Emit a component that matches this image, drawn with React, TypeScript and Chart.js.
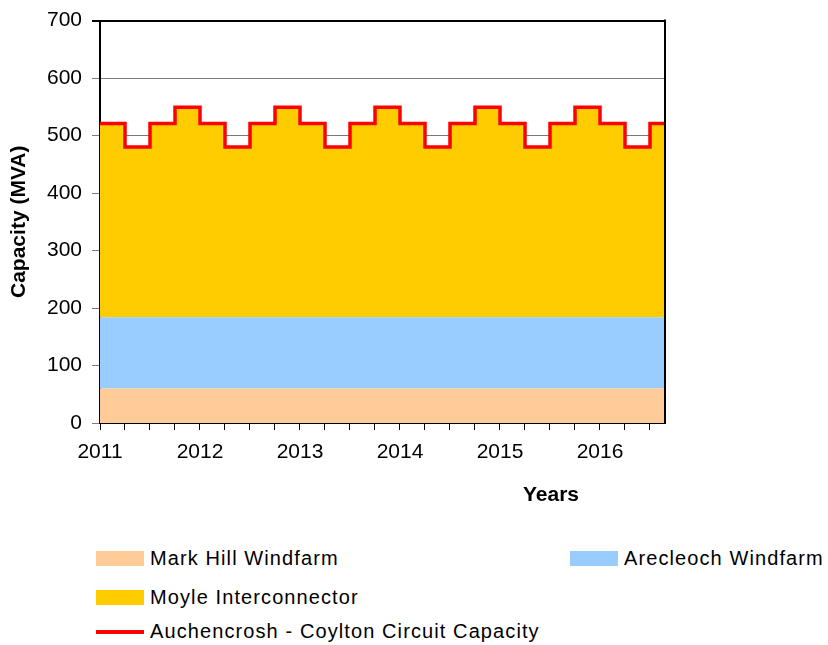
import React, { useEffect, useRef } from "react";
import { Chart, registerables } from "chart.js";

Chart.register(...registerables);

// ---- Data ----
// Quarter start (decimal year); last entry = end of the plotted period
const periodYear = [
  2011, 2011.25, 2011.5, 2011.75,
  2012, 2012.25, 2012.5, 2012.75,
  2013, 2013.25, 2013.5, 2013.75,
  2014, 2014.25, 2014.5, 2014.75,
  2015, 2015.25, 2015.5, 2015.75,
  2016, 2016.25, 2016.5, 2016.65,
];

const circuitCapacity = [
  521, 480, 521, 549,
  521, 480, 521, 549,
  521, 480, 521, 549,
  521, 480, 521, 549,
  521, 480, 521, 549,
  521, 480, 521, 521,
];

const markHillWindfarm = [
  60, 60, 60, 60, 60, 60, 60, 60, 60, 60, 60, 60,
  60, 60, 60, 60, 60, 60, 60, 60, 60, 60, 60, 60,
];

const arecleochWindfarm = [
  124, 124, 124, 124, 124, 124, 124, 124, 124, 124, 124, 124,
  124, 124, 124, 124, 124, 124, 124, 124, 124, 124, 124, 124,
];

const moyleInterconnector = [
  337, 296, 337, 365,
  337, 296, 337, 365,
  337, 296, 337, 365,
  337, 296, 337, 365,
  337, 296, 337, 365,
  337, 296, 337, 337,
];

const seriesNames = [
  "Mark Hill Windfarm",
  "Arecleoch Windfarm",
  "Moyle Interconnector",
  "Auchencrosh - Coylton Circuit Capacity",
];
const seriesColors = ["#FFCC99", "#99CCFF", "#FFCC00", "#FF0000"];

const yMin = 0;
const yMax = 700;
const yStep = 100;
const xMin = 2011;
const xMax = 2016.65;
const xStep = 0.25;

const FONT = '"Liberation Sans", Arial, Helvetica, sans-serif';

const toPoints = (vals: number[]) => periodYear.map((x, i) => ({ x, y: vals[i] }));

export default function App() {
  const canvasRef = useRef<HTMLCanvasElement | null>(null);

  useEffect(() => {
    if (!canvasRef.current) return;

    const framePlugin = {
      id: "frameAndYears",
      afterDatasetsDraw(chart: any) {
        const { ctx, chartArea } = chart;
        ctx.save();
        ctx.strokeStyle = "#000";
        ctx.lineWidth = 2;
        ctx.beginPath();
        ctx.moveTo(chartArea.right, chartArea.top - 1);
        ctx.lineTo(chartArea.right, chartArea.bottom);
        ctx.stroke();
        ctx.restore();
      },
      afterDraw(chart: any) {
        const { ctx, chartArea } = chart;
        ctx.save();
        ctx.font = `bold 21px ${FONT}`;
        ctx.fillStyle = "#000";
        ctx.textAlign = "center";
        ctx.textBaseline = "middle";
        ctx.fillText("Years", chartArea.right - 114, chartArea.bottom + 72);
        ctx.restore();
      },
    };

    const stepMode: any = "before";

    const chart = new Chart(canvasRef.current, {
      type: "line",
      data: {
        datasets: [
          {
            label: seriesNames[3],
            data: toPoints(circuitCapacity),
            borderColor: seriesColors[3],
            borderWidth: 3.5,
            pointRadius: 0,
            stepped: stepMode,
            fill: false,
            stack: "capacity",
          } as any,
          {
            label: seriesNames[0],
            data: toPoints(markHillWindfarm),
            borderColor: "transparent",
            borderWidth: 0,
            backgroundColor: seriesColors[0],
            pointRadius: 0,
            stepped: stepMode,
            fill: "origin",
            stack: "sources",
          },
          {
            label: seriesNames[1],
            data: toPoints(arecleochWindfarm),
            borderColor: "transparent",
            borderWidth: 0,
            backgroundColor: seriesColors[1],
            pointRadius: 0,
            stepped: stepMode,
            fill: "-1",
            stack: "sources",
          },
          {
            label: seriesNames[2],
            data: toPoints(moyleInterconnector),
            borderColor: "transparent",
            borderWidth: 0,
            backgroundColor: seriesColors[2],
            pointRadius: 0,
            stepped: stepMode,
            fill: "-1",
            stack: "sources",
          },
        ],
      },
      options: {
        animation: false,
        responsive: false,
        maintainAspectRatio: false,
        layout: { padding: { top: 18.7, right: 163, left: 0, bottom: 0 } },
        plugins: {
          legend: { display: false },
          tooltip: { enabled: false },
        },
        scales: {
          x: {
            type: "linear",
            min: xMin,
            max: xMax,
            ticks: {
              stepSize: xStep,
              includeBounds: false,
              autoSkip: false,
              maxRotation: 0,
              minRotation: 0,
              padding: 10,
              color: "#000",
              font: { family: FONT, size: 21 },
              callback: (v: any) => (Number.isInteger(Number(v)) ? String(v) : ""),
            },
            afterBuildTicks: (s: any) => {
              s.ticks = s.ticks.filter(
                (t: any) => Math.abs(t.value / xStep - Math.round(t.value / xStep)) < 1e-6
              );
            },
            afterFit: (s: any) => {
              s.height = 97;
            },
            grid: {
              display: true,
              drawOnChartArea: false,
              drawTicks: true,
              tickLength: 7,
              color: "#000",
              tickWidth: 1,
            },
            border: { display: true, color: "#000", width: 2 },
          } as any,
          y: {
            min: yMin,
            max: yMax,
            stacked: true,
            ticks: {
              stepSize: yStep,
              padding: 10,
              color: "#000",
              font: { family: FONT, size: 21, lineHeight: 1 },
            },
            afterFit: (s: any) => {
              s.width = 100;
            },
            grid: {
              color: (c: any) => (c.tick && c.tick.value === yMax ? "#000" : "#7a7a7a"),
              lineWidth: (c: any) => (c.tick && c.tick.value === yMax ? 2 : 1),
              tickLength: 8,
            },
            border: { display: true, color: "#000", width: 2 },
            title: {
              display: true,
              text: "Capacity (MVA)",
              color: "#000",
              font: { family: FONT, size: 21, weight: "bold" },
              padding: { top: 7, bottom: 0 },
            },
          } as any,
        },
      },
      plugins: [framePlugin],
    });

    return () => chart.destroy();
  }, []);

  const legendItems = [
    { name: seriesNames[0], color: seriesColors[0], kind: "box", left: 96, top: 551 },
    { name: seriesNames[1], color: seriesColors[1], kind: "box", left: 570, top: 551 },
    { name: seriesNames[2], color: seriesColors[2], kind: "box", left: 96, top: 590 },
    { name: seriesNames[3], color: seriesColors[3], kind: "line", left: 96, top: 624 },
  ];

  return (
    <div style={{ position: "absolute", left: 0, top: 0, width: 828, height: 645, background: "#fff" }}>
      <canvas
        ref={canvasRef}
        width={828}
        height={520}
        style={{ position: "absolute", left: 0, top: 0, width: 828, height: 520 }}
      />
      {legendItems.map((it) => (
        <div
          key={it.name}
          style={{
            position: "absolute",
            left: it.left,
            top: it.top,
            height: 15,
            display: "flex",
            alignItems: "center",
            whiteSpace: "nowrap",
          }}
        >
          {it.kind === "box" ? (
            <div style={{ width: 48, height: 15, background: it.color }} />
          ) : (
            <div style={{ width: 48, height: 4, background: it.color }} />
          )}
          <span
            style={{
              marginLeft: 6,
              fontFamily: FONT,
              fontSize: 20,
              letterSpacing: 1.1,
              color: "#000",
              lineHeight: "15px",
            }}
          >
            {it.name}
          </span>
        </div>
      ))}
    </div>
  );
}
